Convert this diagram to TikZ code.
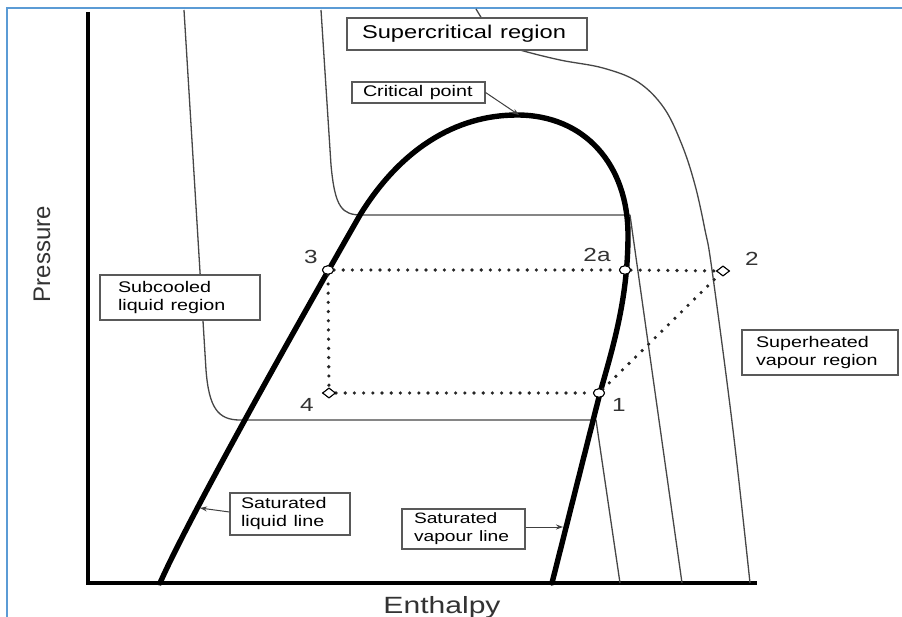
\documentclass[tikz,border=0pt]{standalone}
\usepackage{fontspec}
\setmainfont{Liberation Sans}
\usetikzlibrary{shapes.geometric,arrows.meta}
\newcommand{\sx}[1]{\scalebox{1.28}[1]{#1}}
\definecolor{frameblue}{RGB}{91,155,213}
\definecolor{isogray}{RGB}{70,70,70}
\tikzset{
  iso/.style={line width=1.3pt, draw=isogray, line join=round},
  satline/.style={line width=5.4pt, line join=round, line cap=round},
  dotl/.style={line width=3.6pt, dash pattern=on 0pt off 9.2pt, line cap=round, draw=black!85},
  lbox/.style={draw=black!65, line width=1.1pt, fill=white, inner ysep=0pt, align=left, anchor=center},
  mkc/.style={ellipse, draw, fill=white, line width=1pt, minimum width=11pt, minimum height=8.5pt, inner sep=0pt},
  mkd/.style={diamond, draw, fill=white, line width=1pt, minimum width=13pt, minimum height=10pt, inner sep=0pt},
  ptlab/.style={font=\fontsize{19}{19}\selectfont, inner sep=0pt, text=black!80},
  arr/.style={line width=1pt, draw=black!75, -{Stealth[length=7pt,width=5pt]}}
}
\begin{document}
\begin{tikzpicture}[x=1pt,y=-1pt]
\useasboundingbox (0,0) rectangle (902,617);
\fill[white] (0,0) rectangle (902,617);
% frame
\draw[frameblue, line width=2pt] (7,617) -- (7,8) -- (902,8);
% axes
\coordinate (ytop) at (88,12);
\coordinate (orig) at (88,583);
\coordinate (xend) at (757,583);
\draw[line width=3.8pt, line join=miter] (ytop) -- (orig) -- (xend);
% isotherms
\draw[iso] (184,10) -- (206,370) .. controls (209,408) and (218,420) .. (240,420) -- (596,420) -- (620,583);
\draw[iso] (321,10) -- (331,165) .. controls (335,208) and (342,215) .. (362,215) -- (630,215) -- (682,583);
\draw[iso] (476,9) -- (485,24);
\draw[iso] plot[smooth, tension=0.6] coordinates {(505,44) (520,50) (560,60) (603,68) (638,82) (664,108) (682,145) (695,185) (705,230) (712,270) (733,430) (750,583)};
% saturation dome
\draw[satline] (160,583) .. controls (190,515) and (300,320) .. (360,215)
  .. controls (400,150) and (455,115) .. (517,115)
  .. controls (585,115) and (628,165) .. (628,235)
  .. controls (628,300) and (612,350) .. (600,393) -- (552,583);
\coordinate (cp) at (519,115);
\coordinate (slpt) at (200,508);
\coordinate (svpt) at (563,527);
% state points
\node[mkc] (p3) at (328,270) {};
\node[mkc] (p2a) at (625,270) {};
\node[mkd] (p2) at (723,271) {};
\node[mkd] (p4) at (329,393) {};
\node[mkc] (p1) at (599,393) {};
\draw[dotl] (p3) -- (p2a);
\draw[dotl] (p2a) -- (p2);
\draw[dotl] (p3) -- (p4);
\draw[dotl] (p4) -- (p1);
\draw[dotl] (p1) -- (p2);
\node[mkc] at (p3) {};
\node[mkc] at (p2a) {};
\node[mkd] at (p2) {};
\node[mkd] at (p4) {};
\node[mkc] at (p1) {};
% point labels
\node[ptlab] (l3) at (311,257) {\sx{3}};
\node[ptlab] (l2a) at (597,255) {\sx{2a}};
\node[ptlab] (l2) at (752,259) {\sx{2}};
\node[ptlab] (l4) at (307,405) {\sx{4}};
\node[ptlab] (l1) at (619,405) {\sx{1}};
% boxes
\node[lbox, font=\fontsize{18.5}{20}\selectfont, text width=210pt, inner xsep=15pt, minimum height=32pt] (super) at (467,34) {\sx{Supercritical region}};
\node[lbox, font=\fontsize{15.4}{17}\selectfont, text width=111pt, inner xsep=11pt, minimum height=21pt] (crit) at (418.5,92.5) {\sx{Critical point}};
\node[lbox, font=\fontsize{15.4}{18}\selectfont, text width=124pt, inner xsep=18pt, minimum height=45pt] (subc) at (180,297.5) {\sx{Subcooled}\\\sx{liquid region}};
\node[lbox, font=\fontsize{15.4}{18}\selectfont, text width=128pt, inner xsep=14pt, minimum height=45pt] (suph) at (820,352.5) {\sx{Superheated}\\\sx{vapour region}};
\node[lbox, font=\fontsize{15.4}{18}\selectfont, text width=98pt, inner xsep=11pt, minimum height=42pt] (satl) at (290,514) {\sx{Saturated}\\\sx{liquid line}};
\node[lbox, font=\fontsize{15}{18}\selectfont, text width=99pt, inner xsep=12pt, minimum height=40pt] (satv) at (463.5,529) {\sx{Saturated}\\\sx{vapour line}};
% pointer arrows
\draw[arr] (crit.east) -- (cp);
\draw[arr] (satl.west) ++(0,-2) coordinate (slst) (slst) -- (slpt);
\draw[arr] (satv.east) ++(0,-2) coordinate (svst) (svst) -- (svpt);
% axis labels
\node[font=\fontsize{24}{24}\selectfont, rotate=90, anchor=base, text=black!80] (press) at (50,254) {Pressure};
\node[font=\fontsize{23.5}{24}\selectfont, anchor=base, text=black!80] (enth) at (442,613) {\sx{Enthalpy}};
\end{tikzpicture}
\end{document}
